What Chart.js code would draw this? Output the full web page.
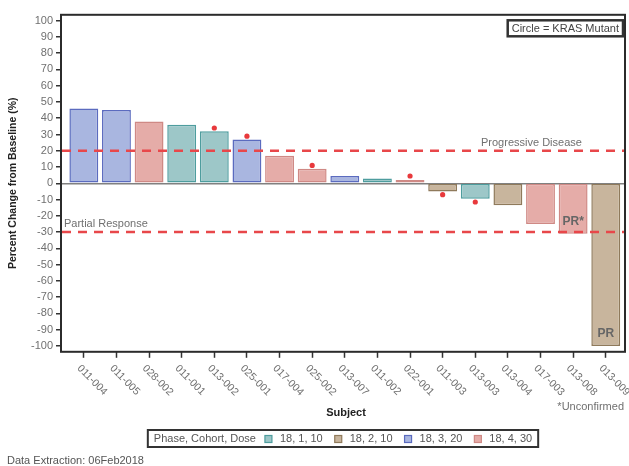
<!DOCTYPE html>
<html>
<head>
<meta charset="utf-8">
<script src="https://cdn.jsdelivr.net/npm/chart.js@4.4.1/dist/chart.umd.min.js"></script>
<style>
  html, body { margin: 0; padding: 0; background: #fff; }
  #wrap { width: 629px; height: 466px; }
</style>
</head>
<body>
<div id="wrap"><canvas id="chart" width="629" height="466"></canvas></div>
<script>
// --- data ---
const subjects = ['011-004','011-005','028-002','011-001','013-002','025-001','017-004','025-002','013-007','011-002','022-001','011-003','013-003','013-004','017-003','013-008','013-009'];
const pctChange = [46, 45, 38, 36, 32, 27, 17, 9, 4.5, 3, 2, -5, -9.5, -13.5, -25, -31, -100];
const cohort = ['18, 3, 20','18, 3, 20','18, 4, 30','18, 1, 10','18, 1, 10','18, 3, 20','18, 4, 30','18, 4, 30','18, 3, 20','18, 1, 10','18, 4, 30','18, 2, 10','18, 1, 10','18, 2, 10','18, 4, 30','18, 4, 30','18, 2, 10'];
// red circle = KRAS mutant (marker value)
const krasMarks = [null, null, null, null, 34, 29, null, 11, null, null, 4.5, -7, -11.5, null, null, null, null];
const responseTags = ['', '', '', '', '', '', '', '', '', '', '', '', '', '', '', 'PR*', 'PR'];

const cohortNames = ['18, 1, 10', '18, 2, 10', '18, 3, 20', '18, 4, 30'];
const cohortFill = ['#9dc7c8', '#c8b59d', '#a9b6e0', '#e5aca8'];
const cohortEdge = ['#4e9d9e', '#8f7a5b', '#5b6bbf', '#cf8985'];

const yTickValues = [100, 90, 80, 70, 60, 50, 40, 30, 20, 10, 0, -10, -20, -30, -40, -50, -60, -70, -80, -90, -100];
const refLines = [20, -30];
const refLabels = ['Progressive Disease', 'Partial Response'];

const FONT = "'Liberation Sans', Arial, sans-serif";
const GREY = '#707070';

function cohortIdx(c){ return cohortNames.indexOf(c); }

// extra drawing: reference lines, tags, frame, rotated subject labels, legend, notes
const annotate = {
  id: 'annotate',
  afterDatasetsDraw(chart){
    const { ctx, chartArea: a, scales: { x, y } } = chart;
    ctx.save();

    // dashed reference lines
    ctx.strokeStyle = '#e8474a';
    ctx.lineWidth = 2.5;
    ctx.setLineDash([9, 7]);
    refLines.forEach(v => {
      const py = y.getPixelForValue(v);
      ctx.beginPath(); ctx.moveTo(a.left + 1, py); ctx.lineTo(a.right, py); ctx.stroke();
    });
    ctx.setLineDash([]);

    ctx.font = '11px ' + FONT;
    ctx.fillStyle = GREY;
    ctx.textBaseline = 'middle';
    ctx.textAlign = 'left';
    ctx.fillText(refLabels[0], a.right - 144, y.getPixelForValue(refLines[0]) - 8);
    ctx.fillText(refLabels[1], a.left + 3, y.getPixelForValue(refLines[1]) - 8);

    // response tags inside bar ends
    const bars = chart.getDatasetMeta(1).data;
    ctx.font = 'bold 12px ' + FONT;
    ctx.fillStyle = '#666';
    ctx.textAlign = 'center';
    responseTags.forEach((t, i) => {
      if (!t || !bars[i]) return;
      ctx.fillText(t, bars[i].x, bars[i].y - 12.5);
    });

    // plot frame
    ctx.strokeStyle = '#2b2b2b';
    ctx.lineWidth = 2;
    ctx.strokeRect(a.left, a.top, a.right - a.left, a.bottom - a.top);

    // KRAS note box
    ctx.font = '11px ' + FONT;
    const note = 'Circle = KRAS Mutant';
    const nw = ctx.measureText(note).width;
    const bx = a.right - 2 - nw - 8;
    ctx.lineWidth = 2.5;
    ctx.strokeStyle = '#333';
    ctx.strokeRect(bx, a.top + 5.5, nw + 8, 16);
    ctx.fillStyle = '#444';
    ctx.textAlign = 'left';
    ctx.fillText(note, bx + 4, a.top + 14);

    ctx.restore();
  },
  afterDraw(chart){
    const { ctx, chartArea: a, scales: { x } } = chart;
    ctx.save();

    // rotated subject labels (text runs down-right from each tick)
    ctx.font = '10.5px ' + FONT;
    ctx.fillStyle = GREY;
    ctx.textAlign = 'left';
    ctx.textBaseline = 'middle';
    subjects.forEach((s, i) => {
      const px = x.getPixelForValue(i);
      ctx.save();
      ctx.translate(px - 5, a.bottom + 15);
      ctx.rotate(Math.PI / 4);
      ctx.fillText(s, 0, 0);
      ctx.restore();
    });

    // axis title
    ctx.font = 'bold 11px ' + FONT;
    ctx.fillStyle = '#222';
    ctx.textAlign = 'center';
    ctx.fillText('Subject', (a.left + a.right) / 2 + 3, 413);

    ctx.font = '11px ' + FONT;
    ctx.fillStyle = GREY;
    ctx.textAlign = 'right';
    ctx.fillText('*Unconfirmed', 624, 407);

    ctx.textAlign = 'left';
    ctx.fillStyle = '#555';
    ctx.fillText('Data Extraction: 06Feb2018', 7, 461);

    // legend box
    const title = 'Phase, Cohort, Dose';
    const sq = 7, gapSq = 8, gapTitle = 9, gapItem = 12;
    let total = ctx.measureText(title).width + gapTitle;
    cohortNames.forEach((c, i) => {
      total += sq + gapSq + ctx.measureText(c).width + (i < cohortNames.length - 1 ? gapItem : 0);
    });
    const boxW = total + 12;
    const boxX = (a.left + a.right) / 2 - boxW / 2;
    const boxY = 430, boxH = 17, cy = boxY + boxH / 2 + 0.5;
    ctx.lineWidth = 2;
    ctx.strokeStyle = '#333';
    ctx.strokeRect(boxX, boxY, boxW, boxH);
    let cur = boxX + 6;
    ctx.fillStyle = '#555';
    ctx.fillText(title, cur, cy);
    cur += ctx.measureText(title).width + gapTitle;
    cohortNames.forEach((c, i) => {
      ctx.fillStyle = cohortFill[i];
      ctx.fillRect(cur, cy - sq / 2, sq, sq);
      ctx.strokeStyle = cohortEdge[i];
      ctx.lineWidth = 1.2;
      ctx.strokeRect(cur, cy - sq / 2, sq, sq);
      cur += sq + gapSq;
      ctx.fillStyle = '#555';
      ctx.fillText(c, cur, cy);
      cur += ctx.measureText(c).width + gapItem;
    });

    ctx.restore();
  }
};

const ctx = document.getElementById('chart').getContext('2d');
// eslint-disable-next-line no-undef
new Chart(ctx, {
  type: 'bar',
  data: {
    datasets: [
      {
        type: 'scatter',
        label: 'KRAS Mutant',
        data: krasMarks.map((v, i) => ({ x: i, y: v })).filter(p => p.y !== null),
        pointRadius: 2.6,
        pointBackgroundColor: '#e8393c',
        pointBorderWidth: 0,
        order: 0
      },
      {
        label: 'Percent Change',
        data: pctChange.map((v, i) => ({ x: i, y: v })),
        backgroundColor: cohort.map(c => cohortFill[cohortIdx(c)]),
        borderColor: cohort.map(c => cohortEdge[cohortIdx(c)]),
        borderWidth: 1.5,
        borderSkipped: false,
        categoryPercentage: 0.885,
        barPercentage: 1,
        order: 1
      }
    ]
  },
  options: {
    responsive: false,
    animation: false,
    layout: { padding: { top: 14.8, right: 1, bottom: 0, left: 0 } },
    plugins: { legend: { display: false }, tooltip: { enabled: false } },
    scales: {
      x: {
        type: 'linear',
        offset: false,
        min: -0.70,
        max: 16.59,
        afterBuildTicks: axis => { axis.ticks = subjects.map((s, i) => ({ value: i })); },
        afterFit: axis => { axis.height = 466 - 351.8; },
        ticks: { display: false },
        grid: { offset: false, drawOnChartArea: false, drawTicks: true, tickLength: 6, tickColor: '#333', tickWidth: 1.5 },
        border: { display: false }
      },
      y: {
        min: -103.6,
        max: 103.6,
        afterBuildTicks: axis => { axis.ticks = yTickValues.map(v => ({ value: v })); },
        afterFit: axis => { axis.width = 61; },
        ticks: { color: GREY, padding: 3, font: { family: FONT, size: 11 } },
        grid: {
          color: c => (c.tick && c.tick.value === 0) ? '#808080' : 'rgba(0,0,0,0)',
          lineWidth: 1.5,
          tickColor: '#333',
          tickWidth: 1.5,
          tickLength: 5
        },
        border: { display: false },
        title: {
          display: true,
          text: 'Percent Change from Baseline (%)',
          color: '#222',
          font: { family: FONT, size: 10.5, weight: 'bold' },
          padding: { top: 7, bottom: 0 }
        }
      }
    }
  },
  plugins: [annotate]
});
</script>
</body>
</html>
